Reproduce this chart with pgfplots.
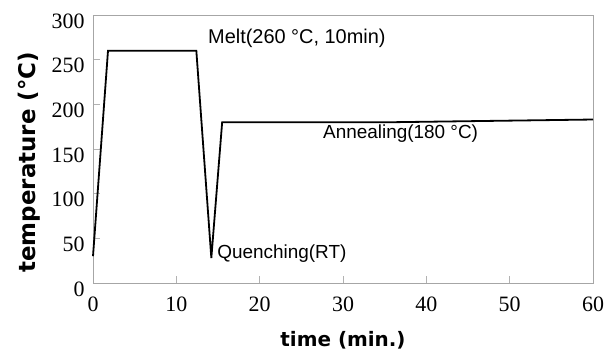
\documentclass[border=0pt]{standalone}
\usepackage{pgfplots}
\pgfplotsset{compat=1.18}
\usepackage{fontspec}
\setmainfont{Liberation Serif}
\setsansfont{Liberation Sans}
\newfontfamily\labelfont{DejaVu Sans}
\begin{document}
\begin{tikzpicture}
\begin{axis}[
  scale only axis,
  width=500bp, height=268bp,
  xmin=0, xmax=60, ymin=0, ymax=300,
  xtick={0,10,...,60}, ytick={0,50,...,300},
  /pgf/number format/assume math mode=true,
  ticklabel style={font=\fontsize{22}{22}\selectfont},
  xticklabel style={yshift=-10bp},
  yticklabel style={xshift=-5bp, yshift=-6bp},
  axis line style={gray!70, line width=0.8bp},
  tick style={gray!60, line width=0.6bp},
  tick align=inside,
  major tick length=7bp,
  xtick pos=bottom, ytick pos=left,
  clip=false,
  xlabel={\labelfont\bfseries time (min.)},
  ylabel={\labelfont\bfseries temperature (\textdegree C)},
  xlabel style={font=\fontsize{20}{20}\selectfont, at={(axis description cs:0.5,-0.2127)}, anchor=center},
  ylabel style={font=\fontsize{23}{23}\selectfont, at={(axis description cs:-0.128,0.45)}, anchor=center},
]
\addplot[black, line width=1.8bp] coordinates {
  (0,30) (1.8,260) (12.4,260) (14.2,28) (15.5,180) (36,180) (60,183)
};
\node[anchor=west, font=\sffamily\fontsize{20}{20}\selectfont, inner sep=0pt] at (axis cs:13.8,274) {Melt(260 \textdegree C, 10min)};
\node[anchor=west, font=\sffamily\fontsize{19}{19}\selectfont, inner sep=0pt] at (axis cs:14.9,32.5) {Quenching(RT)};
\node[anchor=west, font=\sffamily\fontsize{19}{19}\selectfont, inner sep=0pt] at (axis cs:27.6,167) {Annealing(180 \textdegree C)};
\end{axis}
\pgfresetboundingbox
\path[use as bounding box] ([shift={(-93bp,-69bp)}]current axis.south west) rectangle ([shift={(11bp,15bp)}]current axis.north east);
\end{tikzpicture}
\end{document}
